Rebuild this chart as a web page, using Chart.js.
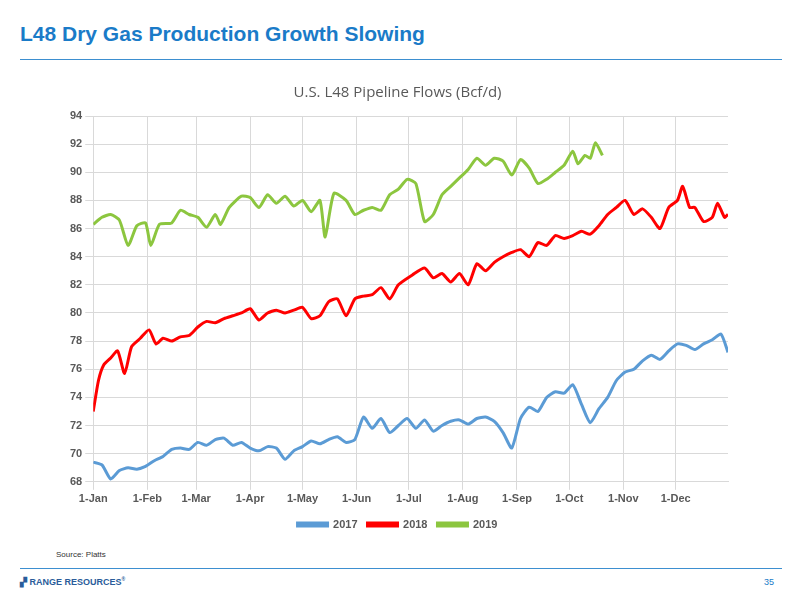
<!DOCTYPE html>
<html><head><meta charset="utf-8">
<script src="https://cdn.jsdelivr.net/npm/chart.js@4"></script>
<style>
body{margin:0;width:800px;height:600px;background:#fff;font-family:"Liberation Sans",Arial,sans-serif;position:relative;overflow:hidden}
#t{position:absolute;left:20px;top:22px;font-size:21px;font-weight:bold;color:#1a7bc8}
#l1{position:absolute;left:20px;top:59px;width:762px;height:1px;background:#3d8fd0}
#box{position:absolute;left:40px;top:72px;width:700px;height:470px}
#src{position:absolute;left:56px;top:550px;font-size:8px;color:#333}
#l2{position:absolute;left:20px;top:568px;width:762px;height:1px;background:#3d8fd0}
#logo{position:absolute;left:20px;top:576px;font-size:9px;color:#2a5c9a;font-weight:bold}
#pg{position:absolute;left:764px;top:577px;font-size:9px;color:#1a7bc8}
</style></head><body>
<div id="t">L48 Dry Gas Production Growth Slowing</div><div id="l1"></div>
<div id="box"><canvas id="c"></canvas></div>
<div id="src">Source: Platts</div><div id="l2"></div>
<div id="logo">▞ RANGE RESOURCES<sup style="font-size:5px">®</sup></div><div id="pg">35</div>
<script>
const monthDays=[0,31,59,90,120,151,181,212,243,273,304,334];
const monthLabels=["1-Jan","1-Feb","1-Mar","1-Apr","1-May","1-Jun","1-Jul","1-Aug","1-Sep","1-Oct","1-Nov","1-Dec"];
const days2017=[0,5,10,15,20,25,30,35,40,45,50,55,60,65,70,75,80,85,90,95,100,105,110,115,120,125,130,135,140,145,150,155,160,165,170,175,180,185,190,195,200,205,210,215,220,225,230,235,240,245,250,255,260,265,270,275,280,285,290,295,300,305,310,315,320,325,330,335,340,345,350,355,360,364];
const vals2017=[69.4,69.2,68.2,68.8,69.0,68.9,69.1,69.5,69.8,70.3,70.4,70.3,70.8,70.6,71.0,71.1,70.6,70.8,70.4,70.2,70.5,70.4,69.6,70.2,70.5,70.9,70.7,71.0,71.2,70.8,71.0,72.6,71.8,72.5,71.5,72.0,72.5,71.8,72.4,71.6,72.0,72.3,72.4,72.1,72.5,72.6,72.3,71.5,70.4,72.5,73.3,73.0,74.0,74.4,74.3,74.9,73.5,72.2,73.2,74.0,75.2,75.8,76.0,76.6,77.0,76.7,77.3,77.8,77.7,77.4,77.8,78.1,78.5,77.2];
const days2018=[0,3,6,10,14,18,22,27,32,36,40,45,50,55,60,65,70,75,80,85,90,95,100,105,110,115,120,125,130,135,140,145,150,155,160,165,170,175,183,190,195,200,205,210,215,220,225,230,235,240,245,250,255,260,265,270,275,280,285,290,295,300,305,310,315,320,325,330,335,338,342,345,350,355,358,362,364];
const vals2018=[73.0,75.2,76.3,76.8,77.3,75.7,77.6,78.2,78.8,77.8,78.2,78.0,78.3,78.4,79.0,79.4,79.3,79.6,79.8,80.0,80.3,79.5,80.0,80.2,80.0,80.2,80.4,79.6,79.8,80.8,81.0,79.8,81.0,81.2,81.3,81.8,81.0,82.0,82.7,83.2,82.5,82.8,82.2,82.8,82.0,83.5,83.0,83.6,84.0,84.3,84.5,84.0,85.0,84.8,85.5,85.3,85.5,85.8,85.6,86.2,87.0,87.5,88.0,87.0,87.4,86.8,86.0,87.5,88.0,89.0,87.5,87.5,86.5,86.8,87.8,86.8,87.0];
const days2019=[0,5,10,15,20,25,30,33,38,45,50,55,60,65,70,73,78,85,90,95,100,105,110,115,120,125,130,133,138,145,150,155,160,165,170,175,180,185,190,195,200,205,210,215,220,225,230,235,240,245,250,255,260,265,270,275,278,282,285,288,292];
const vals2019=[86.3,86.8,87.0,86.6,84.8,86.2,86.4,84.8,86.3,86.4,87.3,87.0,86.8,86.1,87.0,86.3,87.5,88.3,88.2,87.5,88.4,87.8,88.3,87.6,88.0,87.2,88.0,85.4,88.5,88.0,87.0,87.3,87.5,87.3,88.4,88.8,89.5,89.2,86.5,87.0,88.4,89.0,89.6,90.2,91.0,90.5,91.0,90.8,89.8,90.9,90.3,89.2,89.5,90.0,90.5,91.5,90.6,91.2,91.0,92.1,91.2];
const pts=(d,v)=>d.map((x,i)=>({x:x,y:v[i]}));
const ds=(l,d,v,c)=>({label:l,data:pts(d,v),borderColor:c,backgroundColor:c,borderWidth:3,pointRadius:0,tension:0.2});
new Chart(document.getElementById('c'),{type:'line',
data:{datasets:[ds('2017',days2017,vals2017,'#5b9bd5'),ds('2018',days2018,vals2018,'#ff0000'),ds('2019',days2019,vals2019,'#8cc63f')]},
options:{responsive:true,maintainAspectRatio:false,animation:false,
layout:{padding:{left:27,right:12,top:8,bottom:2}},
plugins:{title:{display:true,text:'U.S. L48 Pipeline Flows (Bcf/d)',color:'#595959',font:{family:'Open Sans',size:15,weight:'normal'},padding:{top:4,bottom:14}},
legend:{position:'bottom',labels:{boxWidth:30,boxHeight:3,color:'#595959',font:{family:'Liberation Sans',size:11,weight:'bold'}}}},
scales:{x:{type:'linear',min:0,max:364,afterBuildTicks:a=>{a.ticks=monthDays.map(v=>({value:v}));},
ticks:{autoSkip:false,maxRotation:0,color:'#595959',font:{family:'Liberation Sans',size:11,weight:'bold'},callback:v=>monthLabels[monthDays.indexOf(v)]},
grid:{color:'#d9d9d9'},border:{color:'#d9d9d9'}},
y:{min:68,max:94,ticks:{stepSize:2,color:'#595959',font:{family:'Liberation Sans',size:11,weight:'bold'}},grid:{color:'#d9d9d9'},border:{color:'#d9d9d9'}}}}});
</script></body></html>
